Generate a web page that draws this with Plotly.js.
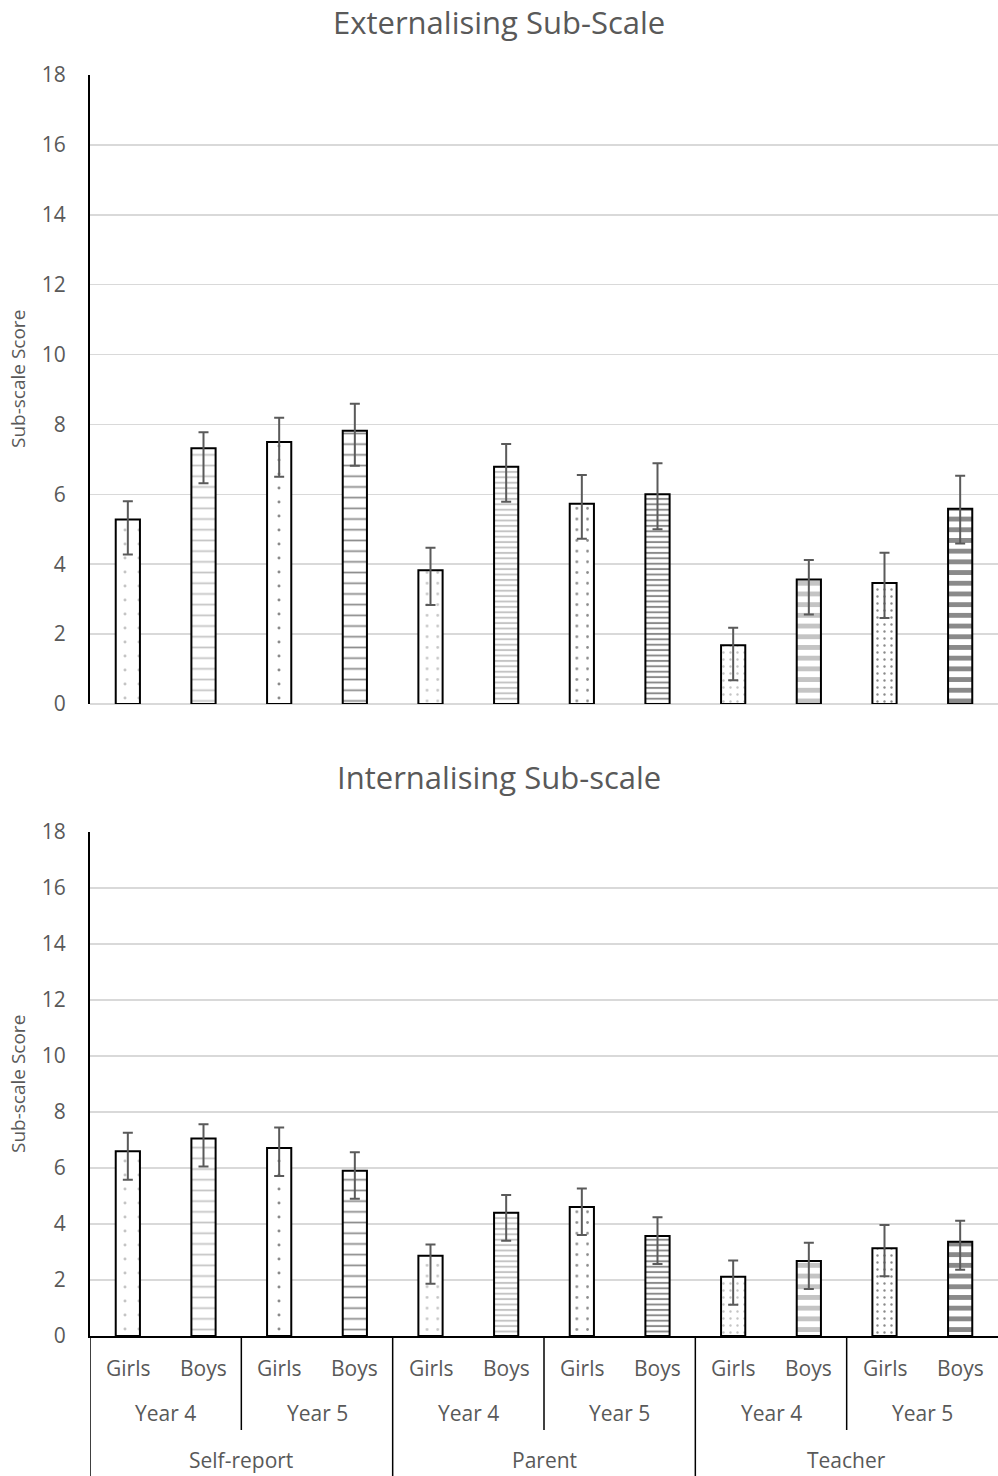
<!DOCTYPE html>
<html>
<head>
<meta charset="utf-8">
<script src="https://cdn.plot.ly/plotly-3.0.1.min.js"></script>
<style>
  html, body { margin: 0; padding: 0; background: #fff; }
  #chart { width: 998px; height: 1476px; }
</style>
</head>
<body>
<div id="chart"></div>
<script>
// Informants, school years and genders that make up the category axis
const sources = ['Self-report', 'Parent', 'Teacher'];
const years = ['Year 4', 'Year 5'];
const genders = ['Girls', 'Boys'];

// Externalising sub-scale: mean score and error bar extents per group
const externalMean = [5.28, 7.32, 7.50, 7.82, 3.83, 6.79, 5.73, 6.00, 1.68, 3.56, 3.46, 5.59];
const externalErrPlus = [0.52, 0.46, 0.69, 0.77, 0.64, 0.65, 0.82, 0.89, 0.50, 0.56, 0.87, 0.94];
const externalErrMinus = [1.0, 1.0, 1.0, 1.0, 1.0, 1.0, 1.0, 1.0, 1.0, 1.0, 1.0, 1.0];

// Internalising sub-scale: mean score and error bar extents per group
const internalMean = [6.60, 7.05, 6.71, 5.90, 2.87, 4.40, 4.61, 3.57, 2.12, 2.68, 3.13, 3.37];
const internalErrPlus = [0.66, 0.51, 0.74, 0.66, 0.40, 0.64, 0.66, 0.67, 0.58, 0.65, 0.83, 0.75];
const internalErrMinus = [1.02, 1.0, 1.0, 1.0, 1.0, 1.0, 1.0, 1.0, 1.0, 1.0, 1.0, 1.0];

const yTicks = [0, 2, 4, 6, 8, 10, 12, 14, 16, 18];

// ---- category keys (source / year / gender) ----
const categories = [];
const catInfo = [];
sources.forEach(s => years.forEach(y => genders.forEach(g => {
  categories.push(s + ' | ' + y + ' | ' + g);
  catInfo.push({ source: s, year: y, gender: g });
})));

// ---- fill patterns: dots for girls, stripes for boys; darker for Year 5 ----
const patternBySource = {
  'Self-report': { Girls: { size: 14, solidity: 0.035 }, Boys: { size: 10.7, solidity: 0.16 } },
  'Parent':      { Girls: { size: 10.7, solidity: 0.05 }, Boys: { size: 5.4, solidity: 0.36 } },
  'Teacher':     { Girls: { size: 7, solidity: 0.09 },   Boys: { size: 10.7, solidity: 0.45 } }
};
const yearShade = { 'Year 4': '#c4c4c4', 'Year 5': '#8a8a8a' };

const pattern = {
  shape: catInfo.map(c => c.gender === 'Girls' ? '.' : '-'),
  size: catInfo.map(c => patternBySource[c.source][c.gender].size),
  solidity: catInfo.map(c => patternBySource[c.source][c.gender].solidity),
  fgcolor: catInfo.map(c => yearShade[c.year]),
  bgcolor: '#ffffff',
  fillmode: 'replace'
};

const textColor = '#595959';
const font = 'Open Sans, Noto Sans, sans-serif';

function barTrace(values, plus, minus, xa, ya) {
  return {
    type: 'bar',
    x: categories,
    y: values,
    xaxis: xa,
    yaxis: ya,
    width: 0.32,
    marker: { color: '#ffffff', pattern: pattern, line: { color: '#000000', width: 2 } },
    error_y: {
      type: 'data', symmetric: false,
      array: plus, arrayminus: minus,
      color: '#5a5a5a', thickness: 2, width: 5
    },
    hoverinfo: 'skip',
    showlegend: false
  };
}

const data = [
  barTrace(externalMean, externalErrPlus, externalErrMinus, 'x', 'y'),
  barTrace(internalMean, internalErrPlus, internalErrMinus, 'x2', 'y2')
];

const H = 1476;
const py = px => 1 - px / H;   // page pixel row -> paper fraction

const yAxisBase = {
  range: [0, 18],
  tickvals: yTicks,
  ticktext: yTicks.map(String),
  showgrid: true,
  gridcolor: '#d9d9d9',
  gridwidth: 1.5,
  showline: true,
  linecolor: '#000000',
  linewidth: 2,
  ticks: '',
  ticklabelstandoff: 18,
  tickfont: { family: font, size: 21, color: textColor },
  fixedrange: true
};

const layout = {
  width: 998,
  height: H,
  margin: { l: 90, r: 0, t: 0, b: 0 },
  paper_bgcolor: '#ffffff',
  plot_bgcolor: '#ffffff',
  bargap: 0.68,
  font: { family: font, color: textColor },
  xaxis: {
    domain: [0, 1], anchor: 'y', type: 'category', range: [-0.5, 11.5],
    showticklabels: false, showgrid: false, showline: false, zeroline: false, ticks: ''
  },
  yaxis: Object.assign({}, yAxisBase, {
    domain: [py(704), py(75)], anchor: 'x',
    zeroline: true, zerolinecolor: '#d9d9d9', zerolinewidth: 1.5
  }),
  xaxis2: {
    domain: [0, 1], anchor: 'y2', type: 'category', range: [-0.5, 11.5],
    showticklabels: false, showgrid: false, ticks: '',
    showline: true, linecolor: '#000000', linewidth: 1.5, zeroline: false
  },
  yaxis2: Object.assign({}, yAxisBase, {
    domain: [py(1336), py(832)], anchor: 'x2',
    zeroline: false
  }),
  annotations: [],
  shapes: []
};

// chart titles
layout.annotations.push({
  text: 'Externalising Sub-Scale', xref: 'paper', yref: 'paper',
  x: 0.450, y: py(22), xanchor: 'center', yanchor: 'middle', showarrow: false,
  font: { family: font, size: 31, color: textColor }
});
layout.annotations.push({
  text: 'Internalising Sub-scale', xref: 'paper', yref: 'paper',
  x: 0.450, y: py(777), xanchor: 'center', yanchor: 'middle', showarrow: false,
  font: { family: font, size: 31, color: textColor }
});

// y-axis titles
[379, 1084].forEach(row => {
  layout.annotations.push({
    text: 'Sub-scale Score', xref: 'paper', yref: 'paper',
    x: (18 - 90) / 908, y: py(row), xanchor: 'center', yanchor: 'middle',
    textangle: -90, showarrow: false,
    font: { family: font, size: 19, color: textColor }
  });
});

// three-level category labels under the lower chart
const labelFont = { family: font, size: 21, color: textColor };
categories.forEach((c, i) => {
  layout.annotations.push({
    text: catInfo[i].gender, xref: 'x2', yref: 'paper', x: i, y: py(1368),
    xanchor: 'center', yanchor: 'middle', showarrow: false, font: labelFont
  });
});
sources.forEach((s, si) => {
  years.forEach((y, yi) => {
    const idx = si * 4 + yi * 2;
    layout.annotations.push({
      text: y, xref: 'x2', yref: 'paper', x: idx + 0.5, y: py(1413),
      xanchor: 'center', yanchor: 'middle', showarrow: false, font: labelFont
    });
  });
  layout.annotations.push({
    text: s, xref: 'x2', yref: 'paper', x: si * 4 + 1.5, y: py(1460),
    xanchor: 'center', yanchor: 'middle', showarrow: false, font: labelFont
  });
});

// divider lines of the label table
const divider = (x, yTop, yBottom) => ({
  type: 'line', xref: 'x2', yref: 'paper', x0: x, x1: x, y0: py(yTop), y1: py(yBottom),
  line: { color: '#000000', width: 1.5 }
});
layout.shapes.push(divider(-0.5, 1336, H));
sources.forEach((s, si) => {
  layout.shapes.push(divider(si * 4 + 1.5, 1336, 1430));
  if (si > 0) layout.shapes.push(divider(si * 4 - 0.5, 1336, H));
});

Plotly.newPlot('chart', data, layout, { displayModeBar: false, staticPlot: true });
</script>
</body>
</html>
